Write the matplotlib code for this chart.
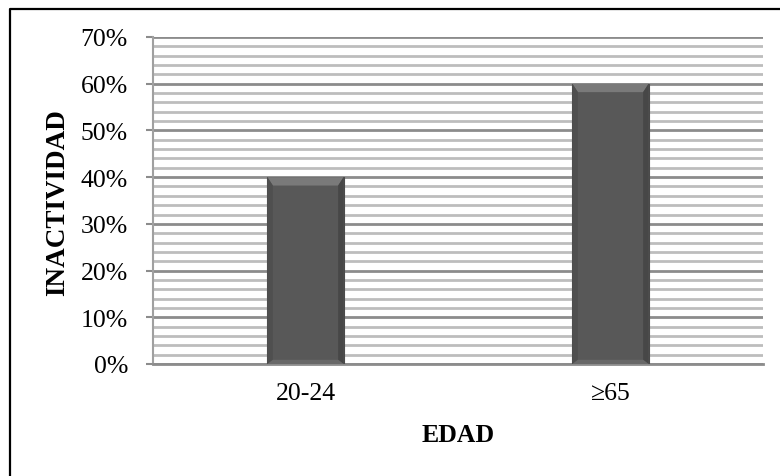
import numpy as np
import matplotlib.pyplot as plt
from matplotlib.patches import Polygon
from matplotlib.lines import Line2D
from matplotlib.ticker import PercentFormatter, MultipleLocator

# age groups and share of inactivity
categories = ["20-24", "\u226565"]
inactividad = [0.40, 0.60]

plt.rcParams['font.family'] = ['Liberation Serif', 'DejaVu Serif']

fig = plt.figure(figsize=(7.8, 4.77), dpi=100)
ax = fig.add_axes([153 / 780, 112 / 477, 610 / 780, 327 / 477])

x = np.arange(len(categories))
bars = ax.bar(x, inactividad, width=0.25, color='#585858', edgecolor='#4a4a4a',
              linewidth=0.8, zorder=3)

# bevelled look on each bar: light top band, darker side strips
bh, bw = 0.018, 0.018
for r in bars:
    x0, x1, h = r.get_x(), r.get_x() + r.get_width(), r.get_height()
    top = Polygon([(x0, h), (x1, h), (x1 - bw, h - bh), (x0 + bw, h - bh)],
                  closed=True, facecolor='#7a7a7a', edgecolor='none', zorder=4)
    left = Polygon([(x0, 0), (x0, h), (x0 + bw, h - bh), (x0 + bw, bh * 0.5)],
                   closed=True, facecolor='#4f4f4f', edgecolor='none', zorder=4)
    right = Polygon([(x1, 0), (x1, h), (x1 - bw, h - bh), (x1 - bw, bh * 0.5)],
                    closed=True, facecolor='#474747', edgecolor='none', zorder=4)
    bottom = Polygon([(x0, 0), (x1, 0), (x1 - bw, bh * 0.5), (x0 + bw, bh * 0.5)],
                     closed=True, facecolor='#686868', edgecolor='none', zorder=4)
    for p in (top, left, right, bottom):
        ax.add_patch(p)

ax.set_xlim(-0.5, len(categories) - 0.5)
ax.set_ylim(0, 0.70)
ax.yaxis.set_major_locator(MultipleLocator(0.10))
ax.yaxis.set_minor_locator(MultipleLocator(0.02))
ax.yaxis.set_major_formatter(PercentFormatter(1.0, decimals=0))

ax.grid(axis='y', which='major', color='#8c8c8c', linewidth=2.0, zorder=0)
ax.grid(axis='y', which='minor', color='#bdbdbd', linewidth=2.0, zorder=0)
ax.set_axisbelow(True)

for s in ('top', 'right'):
    ax.spines[s].set_visible(False)
ax.spines['left'].set_color('#a0a0a0')
ax.spines['left'].set_linewidth(1.5)
ax.spines['bottom'].set_color('#8c8c8c')
ax.spines['bottom'].set_linewidth(2.0)

ax.set_xticks(x)
ax.set_xticklabels(categories, fontsize=18.5)
ax.tick_params(axis='x', length=0, pad=13)
ax.tick_params(axis='y', which='major', length=5, width=1.5, color='#8c8c8c',
               labelsize=18.5, pad=13)
ax.tick_params(axis='y', which='minor', length=0)

ax.set_xlabel("EDAD", fontsize=18.5, fontweight='bold', va='center')
ax.xaxis.set_label_coords(0.5, -0.217)
ax.set_ylabel("INACTIVIDAD", fontsize=19.5, fontweight='bold', va='center')
ax.yaxis.set_label_coords(-0.156, 0.498)

# frame around the chart area (top and left edges)
fy = 1 - 9.5 / 477
fx = 9.5 / 780
fig.add_artist(Line2D([fx, fx, 1.0], [0.0, fy, fy], transform=fig.transFigure,
                      color='black', linewidth=1.6))

fig.savefig("out.png", dpi=100)
